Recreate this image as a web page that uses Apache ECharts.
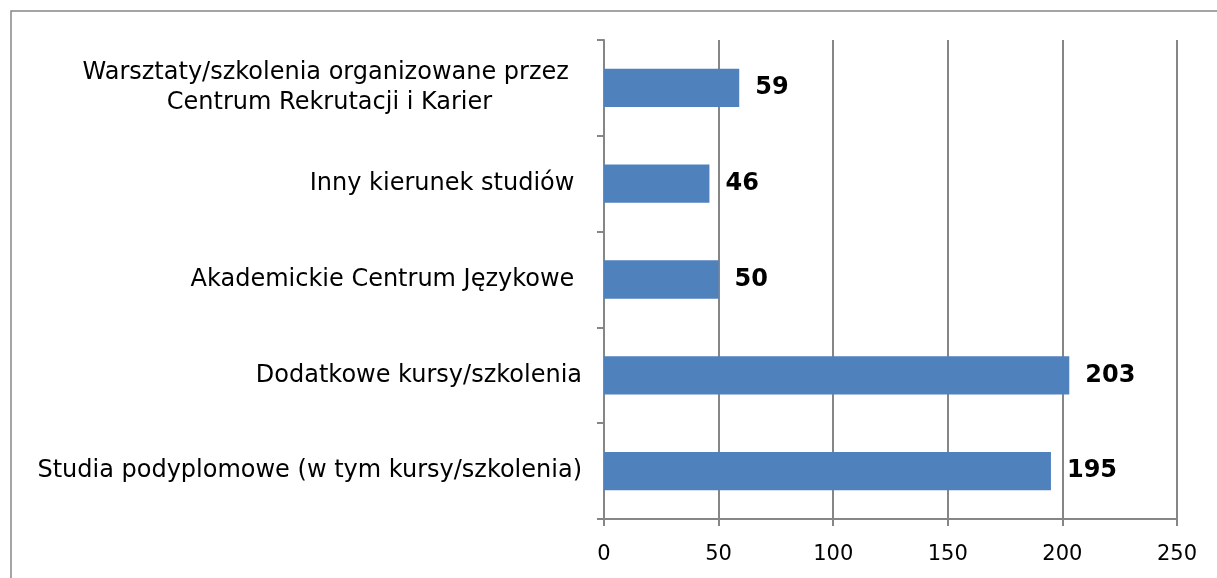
<!DOCTYPE html>
<html>
<head>
<meta charset="utf-8">
<script src="https://cdn.jsdelivr.net/npm/echarts@6/dist/echarts.min.js"></script>
<style>
html, body { margin: 0; padding: 0; background: #fff; }
#chart { width: 1217px; height: 578px; }
</style>
</head>
<body>
<div id="chart"></div>
<script>
// bottom to top, as echarts draws a category y axis
const categories = [
  'Studia podyplomowe (w tym kursy/szkolenia)',
  'Dodatkowe kursy/szkolenia',
  'Akademickie Centrum Językowe ',
  'Inny kierunek studiów ',
  'Warsztaty/szkolenia organizowane przez \nCentrum Rekrutacji i Karier'
]
const values = [195, 203, 50, 46, 59]
const xTicks = [0, 50, 100, 150, 200, 250]

const chart = echarts.init(document.getElementById('chart'))
const axisGray = '#868686'

chart.setOption({
  animation: false,
  graphic: [
    {
      type: 'rect',
      shape: { x: 11, y: 11, width: 1240, height: 600 },
      style: { fill: 'none', stroke: axisGray, lineWidth: 1.5 }
    }
  ],
  grid: { left: 604, right: 40, top: 40, bottom: 59 },
  xAxis: {
    type: 'value',
    min: xTicks[0],
    max: xTicks[xTicks.length - 1],
    interval: 50,
    axisLine: { show: true, lineStyle: { color: axisGray, width: 2 } },
    axisTick: { show: true, length: 7, lineStyle: { color: axisGray, width: 2 } },
    axisLabel: {
      margin: 25,
      color: '#000',
      fontFamily: 'DejaVu Sans',
      fontSize: 21
    },
    splitLine: { show: true, lineStyle: { color: axisGray, width: 2 } }
  },
  yAxis: {
    type: 'category',
    data: categories,
    axisLine: { show: true, lineStyle: { color: axisGray, width: 2 } },
    axisTick: { show: true, length: 7, lineStyle: { color: axisGray, width: 2 } },
    axisLabel: {
      margin: 22,
      color: '#000',
      fontFamily: 'DejaVu Sans',
      fontSize: 24,
      lineHeight: 30,
      formatter: function (v) {
        if (v.indexOf('\n') >= 0) {
          return v.split('\n').map(function (s) { return '{c|' + s + '}' }).join('\n')
        }
        return v
      },
      rich: {
        c: {
          width: 505,
          align: 'center',
          color: '#000',
          fontFamily: 'DejaVu Sans',
          fontSize: 24,
          lineHeight: 30
        }
      }
    }
  },
  series: [
    {
      type: 'bar',
      data: values,
      barWidth: '40%',
      itemStyle: { color: '#4F81BD' },
      label: {
        show: true,
        position: 'right',
        distance: 16,
        color: '#000',
        fontFamily: 'DejaVu Sans',
        fontWeight: 'bold',
        fontSize: 24
      }
    }
  ]
})
</script>
</body>
</html>
